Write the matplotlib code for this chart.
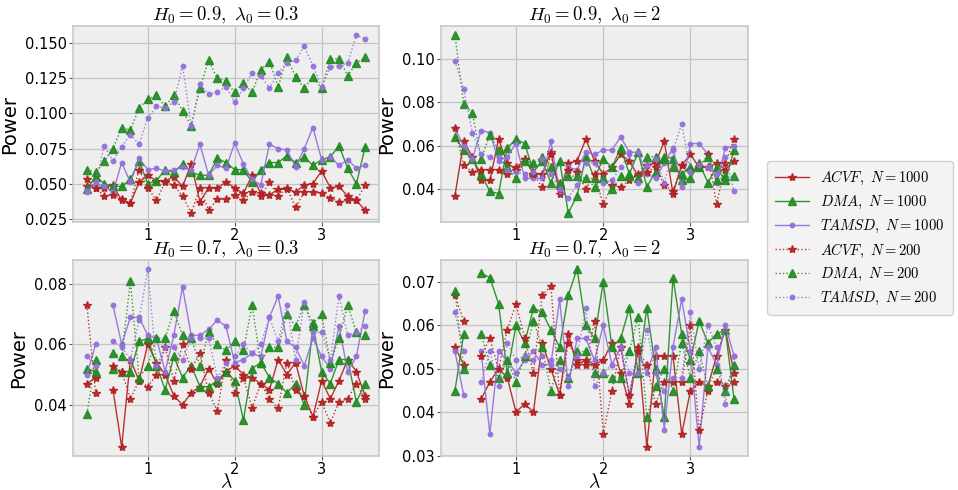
import numpy as np
import matplotlib
matplotlib.use("Agg")
import matplotlib.pyplot as plt

plt.rcParams['mathtext.fontset'] = 'cm'
plt.rcParams['font.family'] = ['DejaVu Sans']

nan = np.nan
lam = [0.3, 0.4, 0.5, 0.6, 0.7, 0.8, 0.9, 1.0, 1.1, 1.2, 1.3, 1.4, 1.5, 1.6, 1.7, 1.8, 1.9,
       2.0, 2.1, 2.2, 2.3, 2.4, 2.5, 2.6, 2.7, 2.8, 2.9, 3.0, 3.1, 3.2, 3.3, 3.4, 3.5]

titles = [r'$H_0=0.9,\ \lambda_0=0.3$', r'$H_0=0.9,\ \lambda_0=2$',
          r'$H_0=0.7,\ \lambda_0=0.3$', r'$H_0=0.7,\ \lambda_0=2$']

# ---- H0=0.9, lambda0=0.3
acvf1000_tl = [0.048, 0.047, 0.047, 0.049, 0.038, 0.036, 0.051, 0.056, 0.052, 0.052, 0.055, 0.048, 0.064, 0.037, 0.047, 0.047, 0.051, 0.047, 0.043, 0.056, 0.043, 0.042, 0.046, 0.046, 0.044, 0.049, 0.050, 0.059, 0.047, 0.048, 0.041, 0.038, 0.031]
dma1000_tl = [0.046, 0.055, 0.050, 0.048, 0.048, 0.053, 0.066, 0.050, 0.052, 0.060, 0.058, 0.064, 0.058, 0.056, 0.056, 0.068, 0.065, 0.060, 0.060, 0.051, 0.060, 0.065, 0.065, 0.070, 0.065, 0.069, 0.063, 0.067, 0.069, 0.077, 0.061, 0.050, 0.076]
tamsd1000_tl = [0.044, 0.050, 0.048, 0.044, 0.065, 0.051, 0.068, 0.060, 0.061, 0.059, 0.060, 0.062, 0.060, 0.078, 0.056, 0.063, 0.061, 0.079, 0.064, 0.053, 0.049, 0.078, 0.075, 0.074, 0.062, 0.075, 0.090, 0.067, 0.069, 0.063, 0.067, 0.061, 0.063]
acvf200_tl = [0.053, 0.047, 0.041, 0.042, 0.039, 0.036, 0.060, 0.047, 0.038, 0.051, 0.049, 0.041, 0.029, 0.047, 0.031, 0.039, 0.039, 0.042, 0.038, 0.044, 0.041, 0.051, 0.041, 0.047, 0.033, 0.044, 0.044, 0.043, 0.040, 0.037, 0.038, 0.038, 0.049]
dma200_tl = [0.060, 0.058, 0.066, 0.075, 0.090, 0.088, 0.104, 0.110, 0.113, 0.105, 0.113, 0.102, 0.091, 0.118, 0.138, 0.125, 0.123, 0.115, 0.122, 0.115, 0.131, 0.137, 0.119, 0.140, 0.126, 0.118, 0.126, 0.118, 0.139, 0.139, 0.127, 0.136, 0.140]
tamsd200_tl = [0.045, 0.051, 0.077, 0.066, 0.076, 0.085, 0.078, 0.097, 0.105, 0.104, 0.108, 0.134, 0.091, 0.121, 0.114, 0.115, 0.119, 0.108, 0.118, 0.129, 0.127, 0.118, 0.129, 0.136, 0.138, 0.148, 0.134, 0.119, 0.133, 0.134, 0.136, 0.156, 0.153]

# ---- H0=0.9, lambda0=2
acvf1000_tr = [0.037, 0.062, 0.055, 0.044, 0.044, 0.063, 0.052, 0.049, 0.054, 0.047, 0.047, 0.057, 0.038, 0.052, 0.053, 0.063, 0.053, 0.047, 0.050, 0.056, 0.053, 0.046, 0.051, 0.052, 0.062, 0.038, 0.051, 0.056, 0.050, 0.050, 0.052, 0.049, 0.053]
dma1000_tr = [0.064, 0.058, 0.054, 0.047, 0.039, 0.038, 0.059, 0.063, 0.061, 0.048, 0.053, 0.043, 0.053, 0.029, 0.037, 0.055, 0.045, 0.054, 0.050, 0.059, 0.047, 0.057, 0.041, 0.048, 0.055, 0.054, 0.044, 0.045, 0.052, 0.043, 0.050, 0.044, 0.058]
tamsd1000_tr = [0.068, 0.060, 0.054, 0.067, 0.066, 0.053, 0.055, 0.061, 0.045, 0.045, 0.045, 0.062, 0.039, 0.050, 0.049, 0.057, 0.056, 0.058, 0.058, 0.064, 0.057, 0.057, 0.047, 0.045, 0.052, 0.059, 0.041, 0.061, 0.061, 0.056, 0.043, 0.059, 0.060]
acvf200_tr = [0.068, 0.051, 0.048, 0.049, 0.049, 0.049, 0.047, 0.050, 0.054, 0.047, 0.041, 0.056, 0.040, 0.049, 0.048, 0.040, 0.047, 0.033, 0.042, 0.041, 0.044, 0.047, 0.048, 0.050, 0.042, 0.039, 0.051, 0.049, 0.050, 0.056, 0.033, 0.052, 0.063]
dma200_tr = [0.111, 0.079, 0.075, 0.054, 0.065, 0.058, 0.050, 0.045, 0.053, 0.052, 0.055, 0.050, 0.043, 0.046, 0.046, 0.045, 0.041, 0.045, 0.040, 0.046, 0.046, 0.045, 0.055, 0.055, 0.054, 0.050, 0.047, 0.050, 0.050, 0.055, 0.044, 0.046, 0.046]
tamsd200_tr = [0.099, 0.086, 0.066, 0.056, 0.055, 0.055, 0.049, 0.048, 0.047, 0.048, 0.054, 0.047, 0.040, 0.036, 0.042, 0.052, 0.052, 0.043, 0.044, 0.050, 0.056, 0.043, 0.051, 0.054, 0.043, 0.058, 0.070, 0.048, 0.051, 0.050, 0.047, 0.055, 0.039]

# ---- H0=0.7, lambda0=0.3
acvf1000_bl = [0.047, 0.049, nan, 0.045, 0.026, 0.055, 0.048, 0.060, 0.054, 0.050, 0.043, 0.040, 0.044, 0.046, 0.052, 0.047, 0.051, 0.053, 0.050, 0.049, 0.047, 0.045, 0.055, 0.050, 0.054, 0.043, 0.036, 0.048, 0.042, 0.048, 0.055, 0.051, 0.043]
dma1000_bl = [0.052, 0.051, nan, 0.052, 0.051, 0.051, 0.061, 0.062, 0.053, 0.045, 0.056, 0.049, 0.053, 0.046, 0.046, 0.048, 0.051, 0.048, 0.035, 0.052, 0.054, 0.049, 0.047, 0.044, 0.047, 0.040, 0.066, 0.051, 0.047, 0.055, 0.055, 0.041, 0.047]
tamsd1000_bl = [0.050, 0.060, nan, 0.073, 0.060, 0.069, 0.069, 0.063, 0.062, 0.051, 0.063, 0.079, 0.063, 0.063, 0.065, 0.068, 0.066, 0.054, 0.055, 0.057, 0.056, 0.069, 0.076, 0.061, 0.059, 0.053, 0.062, 0.056, 0.052, 0.066, 0.051, 0.056, 0.071]
acvf200_bl = [0.073, 0.044, nan, 0.053, 0.051, 0.042, 0.048, 0.046, 0.050, 0.059, 0.048, 0.060, 0.052, 0.057, 0.044, 0.038, 0.055, 0.044, 0.049, 0.039, 0.047, 0.042, 0.039, 0.054, 0.045, 0.043, 0.036, 0.041, 0.034, 0.041, 0.042, 0.047, 0.042]
dma200_bl = [0.037, 0.055, nan, 0.057, 0.056, 0.081, 0.049, 0.053, 0.062, 0.062, 0.071, 0.063, 0.062, 0.053, 0.064, 0.060, 0.058, 0.061, 0.058, 0.073, 0.054, 0.059, 0.059, 0.070, 0.066, 0.073, 0.067, 0.070, 0.054, 0.062, 0.073, 0.064, 0.063]
tamsd200_bl = [0.056, 0.053, nan, 0.061, 0.059, 0.055, 0.068, 0.085, 0.053, 0.059, 0.059, 0.055, 0.062, 0.062, 0.062, 0.049, 0.054, 0.056, 0.060, 0.057, 0.060, 0.069, 0.061, 0.073, 0.055, 0.074, 0.064, 0.064, 0.055, 0.076, 0.063, 0.064, 0.066]

# ---- H0=0.7, lambda0=2
acvf1000_br = [0.055, 0.051, nan, 0.043, 0.047, 0.050, 0.048, 0.040, 0.042, 0.040, 0.056, 0.050, 0.044, 0.058, 0.051, 0.052, 0.051, 0.052, 0.056, 0.049, 0.042, 0.055, 0.032, 0.053, 0.053, 0.053, 0.035, 0.045, 0.047, 0.046, 0.053, 0.059, 0.049]
dma1000_br = [0.045, 0.058, nan, 0.072, 0.071, 0.065, 0.049, 0.060, 0.056, 0.064, 0.063, 0.059, 0.055, 0.067, 0.073, 0.060, 0.057, 0.070, 0.055, 0.057, 0.064, 0.049, 0.064, 0.050, 0.039, 0.071, 0.058, 0.052, 0.061, 0.056, 0.058, 0.059, 0.043]
tamsd1000_br = [0.054, 0.044, nan, 0.054, 0.035, 0.054, 0.052, 0.049, 0.052, 0.054, 0.051, 0.051, 0.066, 0.046, 0.057, 0.057, 0.052, 0.060, 0.051, 0.055, 0.044, 0.054, 0.049, 0.055, 0.036, 0.055, 0.066, 0.054, 0.032, 0.055, 0.051, 0.060, 0.053]
acvf200_br = [0.067, 0.061, nan, 0.053, 0.057, 0.050, 0.059, 0.065, 0.057, 0.049, 0.067, 0.069, 0.044, 0.056, 0.052, 0.051, 0.061, 0.035, 0.045, 0.055, 0.044, 0.054, 0.051, 0.042, 0.047, 0.047, 0.047, 0.060, 0.036, 0.045, 0.047, 0.046, 0.047]
dma200_br = [0.068, 0.050, nan, 0.058, 0.051, 0.048, 0.052, 0.047, 0.053, 0.061, 0.055, 0.045, 0.052, 0.048, 0.054, 0.054, 0.049, 0.049, 0.048, 0.048, 0.054, 0.062, 0.039, 0.046, 0.050, 0.045, 0.056, 0.048, 0.054, 0.046, 0.050, 0.045, 0.051]
tamsd200_br = [0.063, 0.054, nan, 0.047, 0.054, 0.046, 0.056, 0.052, 0.053, 0.052, 0.053, 0.052, 0.050, 0.048, 0.053, 0.064, 0.046, 0.049, 0.051, 0.055, 0.049, 0.049, 0.059, 0.049, 0.045, 0.048, 0.048, 0.063, 0.050, 0.060, 0.055, 0.042, 0.053]

panels = [
    [acvf1000_tl, dma1000_tl, tamsd1000_tl, acvf200_tl, dma200_tl, tamsd200_tl],
    [acvf1000_tr, dma1000_tr, tamsd1000_tr, acvf200_tr, dma200_tr, tamsd200_tr],
    [acvf1000_bl, dma1000_bl, tamsd1000_bl, acvf200_bl, dma200_bl, tamsd200_bl],
    [acvf1000_br, dma1000_br, tamsd1000_br, acvf200_br, dma200_br, tamsd200_br],
]
labels = [r'$ACVF,\ N=1000$', r'$DMA,\ N=1000$', r'$TAMSD,\ N=1000$',
          r'$ACVF,\ N=200$', r'$DMA,\ N=200$', r'$TAMSD,\ N=200$']
colors = ['#b22222', '#228b22', '#9370db'] * 2
markers = ['*', '^', 'o'] * 2
msizes = [6.0, 5.8, 3.2] * 2
lstyles = ['-'] * 3 + [':'] * 3

W, H = 958, 490
fig = plt.figure(figsize=(W / 100, H / 100), dpi=100)
rects = [[73, 26, 306, 196], [441, 26, 307, 196], [73, 260, 306, 196], [441, 260, 307, 196]]

handles = []
for k, (series, rect) in enumerate(zip(panels, rects)):
    x0, y0, w, h = rect
    ax = fig.add_axes([x0 / W, 1 - (y0 + h) / H, w / W, h / H])
    ax.set_facecolor('#eeeeee')
    ax.set_axisbelow(True)
    ax.grid(True, color='#c4c4c4', linewidth=0.9, linestyle='-')
    for sp in ax.spines.values():
        sp.set_color('#c8c8c8')
        sp.set_linewidth(1.2)
    hs = []
    for vals, lab, c, m, ms, ls in zip(series, labels, colors, markers, msizes, lstyles):
        ln, = ax.plot(lam, vals, linestyle=ls, color=c, marker=m, markersize=ms,
                      linewidth=1.0, label=lab, alpha=0.92)
        hs.append(ln)
    if k == 0:
        handles = hs
    ax.set_title(titles[k], fontsize=13.5, pad=0)
    ax.tick_params(labelsize=10.5, length=3, width=0.8, color='#555555', pad=1.5)
    ax.set_xticks([1, 2, 3])
    ax.set_ylabel('Power', fontsize=14, labelpad=4)
    if k >= 2:
        ax.set_xlabel(r'$\lambda$', fontsize=14, labelpad=-3.5)
    if k == 0:
        ax.set_yticks([0.025, 0.050, 0.075, 0.100, 0.125, 0.150])
        ax.set_yticklabels(['0.025', '0.050', '0.075', '0.100', '0.125', '0.150'])

leg = fig.legend(handles, labels, loc='center left', bbox_to_anchor=(767 / W, 0.514),
                 fontsize=10.5, handlelength=2.3, handletextpad=0.8, frameon=True,
                 fancybox=True, labelspacing=0.45, borderpad=0.55, borderaxespad=0)
leg.get_frame().set_facecolor('#f0f0f0')
leg.get_frame().set_edgecolor('#c8c8c8')

fig.savefig('out.png', dpi=100)
